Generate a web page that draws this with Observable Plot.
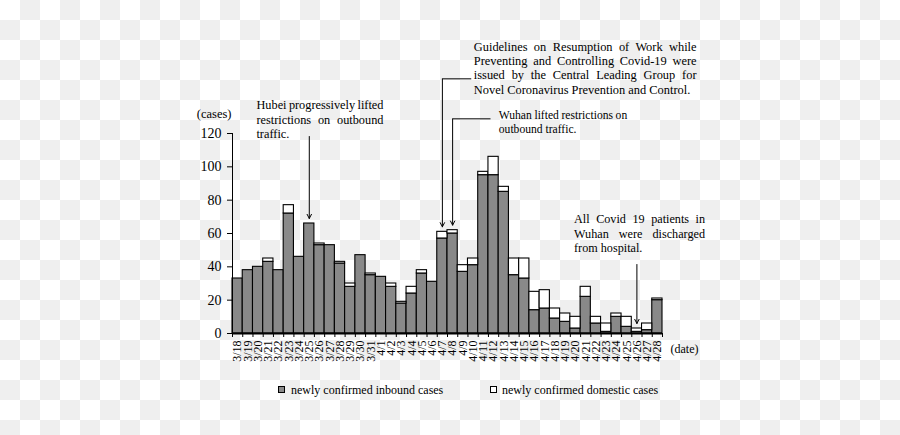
<!DOCTYPE html>
<html><head><meta charset="utf-8">
<script src="https://cdn.jsdelivr.net/npm/d3@7"></script>
<script src="https://cdn.jsdelivr.net/npm/@observablehq/plot@0.6"></script>
<style>
html,body{margin:0;padding:0;}
body{width:900px;height:435px;overflow:hidden;background:#fff repeating-conic-gradient(#efefef 0 25%, #ffffff 0 50%) 0 0/40px 40px;font-family:"Liberation Serif","Times New Roman",serif;color:#000;}
#legend{position:relative;height:63px;font-size:12px;line-height:14px;}
.item{position:absolute;top:10.5px;display:flex;align-items:center;white-space:nowrap;}
.sw{width:5px;height:5px;border:1px solid #000;}
</style></head><body>
<div id="chart"></div>
<div id="legend"></div>
<script>
// ---- data ----
const dates = ["3/18","3/19","3/20","3/21","3/22","3/23","3/24","3/25","3/26","3/27","3/28","3/29","3/30","3/31",
  "4/1","4/2","4/3","4/4","4/5","4/6","4/7","4/8","4/9","4/10","4/11","4/12","4/13","4/14","4/15","4/16","4/17",
  "4/18","4/19","4/20","4/21","4/22","4/23","4/24","4/25","4/26","4/27","4/28"];
const inbound = [33,38,40,43,38,72,46,66,53,53,42,28,47,35,
  34,28,18,24,36,31,57,60,37,41,95,95,85,35,33,14,15,
  9,7,3,22,6,1,10,4,1,2,20];
const domestic = [0,0,0,2,0,5,0,0,1,0,1,2,0,1,
  0,2,1,4,2,0,4,2,4,4,2,11,3,10,12,11,11,
  6,5,7,6,4,5,2,6,2,4,1];
const yTicks = [0,20,40,60,80,100,120];
const seriesNames = ["newly confirmed inbound cases","newly confirmed domestic cases"];
const seriesColors = ["#898989","#ffffff"];
const annoDates = ["3/25","4/7","4/8","4/26"];
const annoTexts = [
  "Hubei progressively lifted\nrestrictions on outbound\ntraffic.",
  "Guidelines on Resumption of Work while\nPreventing and Controlling Covid-19 were\nissued by the Central Leading Group for\nNovel Coronavirus Prevention and Control.",
  "Wuhan lifted restrictions on\noutbound traffic.",
  "All Covid 19 patients in\nWuhan were discharged\nfrom hospital."
];

// ---- derived table ----
const n = dates.length;
const rows = dates.map((d,i)=>({i, date:d, inbound:inbound[i], domestic:domestic[i], total:inbound[i]+domestic[i]}));
const byDate = Object.fromEntries(rows.map(r=>[r.date,r]));
const A = annoDates.map(d=>byDate[d]);
const serif = "Liberation Serif, Times New Roman, serif";

// annotation layout (in scale units, relative to the event bars)
const layout = [
  {top: 118.2, tx: 2.34, ty: 117.2, size: 12.3, just: 127},
  {top: 152.8, hx: 23.32, tx: 23.57, ty: 143.8, size: 12.4, just: 222.7},
  {top: 128.8, hx: 25.2, tx: 26.01, ty: 120.3, size: 11.6, just: 128.4},
  {top: 41.4, tx: 33.36, ty: 48.8, size: 12.2, just: 131}
];

const arrowMarks = A.map((r,k)=>Plot.arrow([r], {
  x1: d=>d.i+0.5, x2: d=>d.i+0.5, y1: ()=>layout[k].top, y2: "total",
  insetEnd: 5, headLength: 7, headAngle: 55, stroke:"#000", strokeWidth: 1
}));
const linkMarks = A.map((r,k)=> layout[k].hx == null ? null : Plot.link([r], {
  x1: d=>d.i+0.5, x2: ()=>layout[k].hx, y1: ()=>layout[k].top, y2: ()=>layout[k].top,
  stroke:"#000", strokeWidth: 1
})).filter(Boolean);
const textMarks = A.map((r,k)=>Plot.text([annoTexts[k]], {
  x: ()=>layout[k].tx, y: ()=>layout[k].ty, text: d=>d,
  textAnchor:"start", lineAnchor:"bottom", lineHeight: 14.4/layout[k].size,
  fontSize: layout[k].size, fill:"#000"
}));

const chart = Plot.plot({
  width: 900, height: 372,
  marginLeft: 232, marginRight: 238, marginTop: 133, marginBottom: 39,
  style: {background:"transparent", fontFamily: serif, color:"#000", overflow:"visible"},
  x: {type:"linear", domain:[0,n], axis:null},
  y: {domain:[0,120], axis:null},
  marks: [
    Plot.rectY(rows, {x1:"i", x2:d=>d.i+1, y1:0, y2:"inbound", fill:seriesColors[0], stroke:"#000", strokeWidth:1.1}),
    Plot.rectY(rows.filter(d=>d.domestic>0), {x1:"i", x2:d=>d.i+1, y1:"inbound", y2:"total", fill:seriesColors[1], stroke:"#000", strokeWidth:1.1}),
    Plot.ruleX([0], {y1:0, y2:120, stroke:"#000", strokeWidth:1}),
    Plot.axisY({ticks:yTicks, tickSize:5, tickPadding:6, fontSize:14, label:null, anchor:"left"}),
    Plot.ruleY([0], {x1:0, x2:n, stroke:"#000", strokeWidth:2}),
    Plot.axisX({ticks:d3.range(n+1), tickSize:4, tickFormat:()=>"", label:null}),
    Plot.text(rows, {x:d=>d.i+0.5, text:"date", frameAnchor:"bottom", rotate:-90, textAnchor:"end", lineAnchor:"middle", dy:7, fontSize:12}),
    Plot.text(["(date)"], {text:d=>d, frameAnchor:"bottom-right", textAnchor:"start", lineAnchor:"bottom", dx:8, dy:19, fontSize:12}),
    Plot.text(["(cases)"], {text:d=>d, frameAnchor:"top-left", textAnchor:"end", lineAnchor:"bottom", dx:-1, dy:-15.5, fontSize:12.5}),
    ...linkMarks,
    ...arrowMarks,
    ...textMarks
  ]
});
document.getElementById("chart").appendChild(chart);

// justify annotation lines (all but the last line of each block)
const multi = Array.from(chart.querySelectorAll("text")).filter(t=>t.querySelectorAll("tspan").length>1);
multi.forEach((t,k)=>{
  const target = layout[k] && layout[k].just;
  if (!target) return;
  const spans = Array.from(t.querySelectorAll("tspan"));
  spans.slice(0,-1).forEach(s=>{
    const w = s.getComputedTextLength();
    const spaces = (s.textContent.match(/ /g)||[]).length;
    if (spaces) s.style.wordSpacing = ((target - w)/spaces) + "px";
  });
});

// legend
const legend = document.getElementById("legend");
const lx = [278, 490], gap = [6, 5];
seriesNames.forEach((name,k)=>{
  const it = document.createElement("div");
  it.className = "item";
  it.style.left = lx[k] + "px";
  const sw = document.createElement("span");
  sw.className = "sw";
  sw.style.background = seriesColors[k];
  sw.style.marginRight = gap[k] + "px";
  const tx = document.createElement("span");
  tx.textContent = name;
  it.appendChild(sw); it.appendChild(tx);
  legend.appendChild(it);
});
</script>
</body></html>
